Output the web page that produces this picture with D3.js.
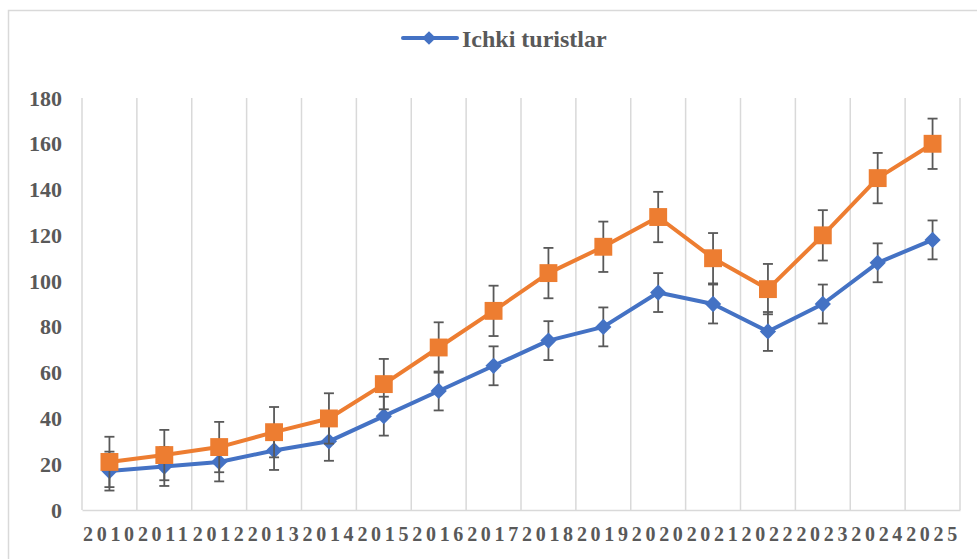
<!DOCTYPE html>
<html>
<head>
<meta charset="utf-8">
<style>
body {
  margin: 0;
  background-color: white;
}
.axis text {
  font-family: "Liberation Serif", "Times New Roman", serif;
  font-weight: bold;
  fill: #595959;
}
</style>
<script src="https://d3js.org/d3.v7.min.js"></script>
</head>
<body>
<svg id="chart" width="977" height="559"></svg>
<script>
// data
var years = ["2010","2011","2012","2013","2014","2015","2016","2017",
             "2018","2019","2020","2021","2022","2023","2024","2025"];
var ichki = [17, 19, 21, 26, 30, 41, 52, 63, 74, 80, 95, 90, 78, 90, 108, 118];
var ichkiErr = [8.5, 8.5, 8.5, 8.5, 8.5, 8.5, 8.5, 8.5, 8.5, 8.5, 8.5, 8.5, 8.5, 8.5, 8.5, 8.5];
var second = [21, 24, 27.5, 34, 40, 55, 71, 87, 103.5, 115, 128, 110, 96.5, 120, 145, 160];
var secondErr = [11, 11, 11, 11, 11, 11, 11, 11, 11, 11, 11, 11, 11, 11, 11, 11];
var yTicks = [0, 20, 40, 60, 80, 100, 120, 140, 160, 180];
var legendLabel = "Ichki turistlar";

var svg = d3.select("#chart");

// outer frame
svg.append("rect")
  .attr("x", 8.5).attr("y", 10.5)
  .attr("width", 1000).attr("height", 600)
  .attr("fill", "none").attr("stroke", "#d9d9d9").attr("stroke-width", 1.5);

var x = d3.scaleBand().domain(years).range([82, 960]).padding(0);
var y = d3.scaleLinear().domain([0, 180]).range([510, 98]);

// vertical gridlines at category edges
var edges = years.map(function(d) { return x(d); }).concat([x(years[years.length - 1]) + x.bandwidth()]);
svg.append("g").selectAll("line").data(edges).enter().append("line")
  .attr("x1", function(d) { return d; }).attr("x2", function(d) { return d; })
  .attr("y1", y(180)).attr("y2", y(0))
  .attr("stroke", "#d9d9d9").attr("stroke-width", 1.5);

// y axis
var yAxis = svg.append("g").attr("class", "axis")
  .attr("transform", "translate(82,0)")
  .call(d3.axisLeft(y).tickValues(yTicks).tickSize(0).tickPadding(20));
yAxis.select(".domain").remove();
yAxis.selectAll("text").style("font-size", "22px");

// x axis
var xAxis = svg.append("g").attr("class", "axis")
  .attr("transform", "translate(0,510)")
  .call(d3.axisBottom(x).tickSize(0).tickPadding(17));
xAxis.select(".domain").attr("stroke", "#d9d9d9").attr("stroke-width", 1.5);
xAxis.selectAll("text")
  .style("font-size", "20px")
  .style("letter-spacing", "3.7px")
  .attr("text-anchor", "start")
  .attr("x", -x.bandwidth() / 2 + 1);

function cx(d, i) { return x(years[i]) + x.bandwidth() / 2; }

function drawSeries(vals, errs, color, symbol, size) {
  var g = svg.append("g");
  g.append("path")
    .datum(vals)
    .attr("fill", "none")
    .attr("stroke", color)
    .attr("stroke-width", 4)
    .attr("stroke-linejoin", "round")
    .attr("d", d3.line().x(cx).y(function(d) { return y(d); }));

  var eb = g.selectAll(".eb").data(vals).enter().append("g").attr("class", "eb");
  eb.append("line")
    .attr("x1", cx).attr("x2", cx)
    .attr("y1", function(d, i) { return y(d - errs[i]); })
    .attr("y2", function(d, i) { return y(d + errs[i]); });
  eb.append("line")
    .attr("x1", function(d, i) { return cx(d, i) - 5; }).attr("x2", function(d, i) { return cx(d, i) + 5; })
    .attr("y1", function(d, i) { return y(d - errs[i]); })
    .attr("y2", function(d, i) { return y(d - errs[i]); });
  eb.append("line")
    .attr("x1", function(d, i) { return cx(d, i) - 5; }).attr("x2", function(d, i) { return cx(d, i) + 5; })
    .attr("y1", function(d, i) { return y(d + errs[i]); })
    .attr("y2", function(d, i) { return y(d + errs[i]); });
  eb.selectAll("line").attr("stroke", "#595959").attr("stroke-width", 1.8);

  g.selectAll(".mk").data(vals).enter().append("path").attr("class", "mk")
    .attr("transform", function(d, i) { return "translate(" + cx(d, i) + "," + y(d) + ")"; })
    .attr("d", d3.symbol().type(symbol).size(size))
    .attr("fill", color);
}

var diamond = {
  draw: function(ctx, size) {
    var r = Math.sqrt(size) / 2 * 1.05;
    ctx.moveTo(0, -r); ctx.lineTo(r, 0); ctx.lineTo(0, r); ctx.lineTo(-r, 0); ctx.closePath();
  }
};

drawSeries(ichki, ichkiErr, "#4472C4", diamond, 240);
drawSeries(second, secondErr, "#ED7D31", d3.symbolSquare, 320);

// legend
var lg = svg.append("g").attr("class", "axis");
lg.append("line")
  .attr("x1", 403).attr("x2", 457).attr("y1", 38).attr("y2", 38)
  .attr("stroke", "#4472C4").attr("stroke-width", 4).attr("stroke-linecap", "round");
lg.append("path")
  .attr("transform", "translate(429,38)")
  .attr("d", d3.symbol().type(diamond).size(170))
  .attr("fill", "#4472C4");
lg.append("text")
  .attr("x", 462).attr("y", 47)
  .style("font-size", "24px")
  .text(legendLabel);
</script>
</body>
</html>
